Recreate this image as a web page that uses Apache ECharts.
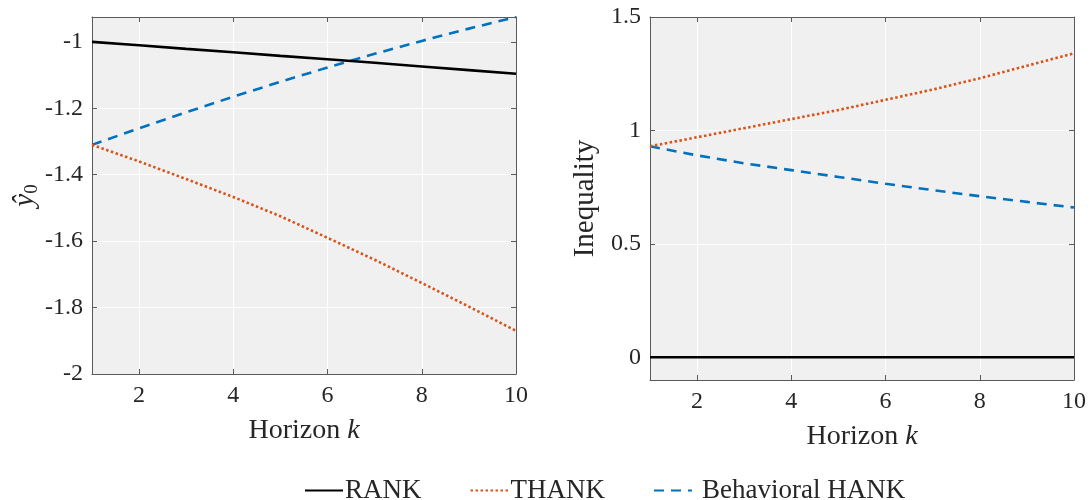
<!DOCTYPE html>
<html>
<head>
<meta charset="utf-8">
<script src="https://cdn.jsdelivr.net/npm/echarts@6/dist/echarts.min.js"></script>
<style>html,body{margin:0;padding:0;background:#fff}#c{width:1089px;height:500px}</style>
</head>
<body>
<div id="c"></div>
<script>
// ---- data ----
const horizons = [1, 2, 3, 4, 5, 6, 7, 8, 9, 10];
const seriesNames = ['RANK', 'THANK', 'Behavioral HANK'];
// left panel: output response y0
const rankOutput  = [-1.000, -1.010, -1.021, -1.031, -1.042, -1.052, -1.063, -1.074, -1.085, -1.096];
const thankOutput = [-1.310, -1.360, -1.413, -1.467, -1.525, -1.590, -1.656, -1.726, -1.797, -1.870];
const bhankOutput = [-1.310, -1.260, -1.212, -1.165, -1.120, -1.077, -1.036, -0.997, -0.960, -0.925];
// right panel: inequality
const rankIneq  = [0, 0, 0, 0, 0, 0, 0, 0, 0, 0];
const thankIneq = [0.930, 0.970, 1.010, 1.050, 1.090, 1.135, 1.180, 1.230, 1.285, 1.340];
const bhankIneq = [0.930, 0.890, 0.855, 0.825, 0.795, 0.765, 0.737, 0.710, 0.685, 0.660];
// ticks
const xTicks = [2, 4, 6, 8, 10];
const yTicksLeft = [-2, -1.8, -1.6, -1.4, -1.2, -1];
const yTicksRight = [0, 0.5, 1, 1.5];
const xRange = [1, 10];
const yRangeLeft = [-2, -0.925];
const yRangeRight = [-0.1, 1.5];

// ---- styling ----
const FONT = 'Liberation Serif';
const AX = '#5a5a5a';
const TXT = '#262626';
const colors = ['#000000', '#D95319', '#0072BD'];
const lineTypes = ['solid', [2.5, 2.5], [10, 7]];

function pairs(ys) { return horizons.map((k, i) => [k, ys[i]]); }

function xAxisDef(gi, pos, withLabels) {
  return {
    type: 'value', gridIndex: gi, position: pos, min: xRange[0], max: xRange[1],
    name: withLabels ? '{t|Horizon }{i|k}' : '',
    nameLocation: 'middle', nameGap: 43,
    nameTextStyle: { rich: {
      t: { fontFamily: FONT, fontSize: 28, color: TXT },
      i: { fontFamily: FONT, fontSize: 28, fontStyle: 'italic', color: TXT } } },
    axisLine: { show: true, onZero: false, lineStyle: { color: AX, width: 1 } },
    axisTick: { show: true, inside: true, length: 5, customValues: xTicks, lineStyle: { color: AX } },
    axisLabel: { show: withLabels, customValues: xTicks, margin: 10, fontFamily: FONT, fontSize: 24, color: TXT },
    splitLine: { show: withLabels, lineStyle: { color: '#ffffff', width: 1 } }
  };
}
function yAxisDef(gi, pos, withLabels, range, ticks, name, nameRich) {
  return {
    type: 'value', gridIndex: gi, position: pos, min: range[0], max: range[1],
    name: withLabels ? name : '', nameLocation: 'middle', nameGap: 50, nameRotate: 90,
    nameTextStyle: { fontFamily: FONT, fontSize: 29, color: TXT, rich: nameRich },
    axisLine: { show: true, onZero: false, lineStyle: { color: AX, width: 1 } },
    axisTick: { show: true, inside: true, length: 5, customValues: ticks, lineStyle: { color: AX } },
    axisLabel: { show: withLabels, customValues: ticks, margin: 9, fontFamily: FONT, fontSize: 24, color: TXT,
      formatter: v => String(Math.round(v * 10) / 10) },
    splitLine: { show: withLabels, lineStyle: { color: '#ffffff', width: 1 } }
  };
}

const leftData = [rankOutput, thankOutput, bhankOutput];
const rightData = [rankIneq, thankIneq, bhankIneq];
const series = [];
[leftData, rightData].forEach((set, gi) => {
  set.forEach((ys, si) => {
    series.push({
      name: seriesNames[si], type: 'line', xAxisIndex: gi * 2, yAxisIndex: gi * 2,
      data: pairs(ys), symbol: 'none', smooth: false, z: 5 - si,
      lineStyle: { color: colors[si], width: 2.6, type: lineTypes[si], cap: 'butt' },
      itemStyle: { color: colors[si] }
    });
  });
});

const option = {
  animation: false,
  backgroundColor: '#ffffff',
  grid: [
    { left: 92, top: 17, width: 424, height: 357, show: true, backgroundColor: '#F0F0F0', borderWidth: 0 },
    { left: 650, top: 17, width: 425, height: 363, show: true, backgroundColor: '#F0F0F0', borderWidth: 0 }
  ],
  xAxis: [xAxisDef(0, 'bottom', true), xAxisDef(0, 'top', false), xAxisDef(1, 'bottom', true), xAxisDef(1, 'top', false)],
  yAxis: [
    yAxisDef(0, 'left', true, yRangeLeft, yTicksLeft, '{a|ŷ}{b|0}', {
      a: { fontFamily: FONT, fontSize: 29, fontStyle: 'italic', color: TXT },
      b: { fontFamily: FONT, fontSize: 19, color: TXT, padding: [12, 0, 0, 0] } }),
    yAxisDef(0, 'right', false, yRangeLeft, yTicksLeft, ''),
    yAxisDef(1, 'left', true, yRangeRight, yTicksRight, 'Inequality'),
    yAxisDef(1, 'right', false, yRangeRight, yTicksRight, '')
  ],
  legend: {
    data: [
      { name: seriesNames[0] },
      { name: seriesNames[1] },
      { name: seriesNames[2], textStyle: { padding: [0, 0, 0, 5] } }
    ],
    left: 299, top: 472, itemWidth: 38, itemHeight: 14, itemGap: 48,
    itemStyle: { opacity: 0 },
    textStyle: { fontFamily: FONT, fontSize: 27, color: TXT, padding: [0, 0, 0, -3] }
  },
  series: series
};
const chart = echarts.init(document.getElementById('c'), null, { renderer: 'canvas' });
chart.setOption(option);
</script>
</body>
</html>
